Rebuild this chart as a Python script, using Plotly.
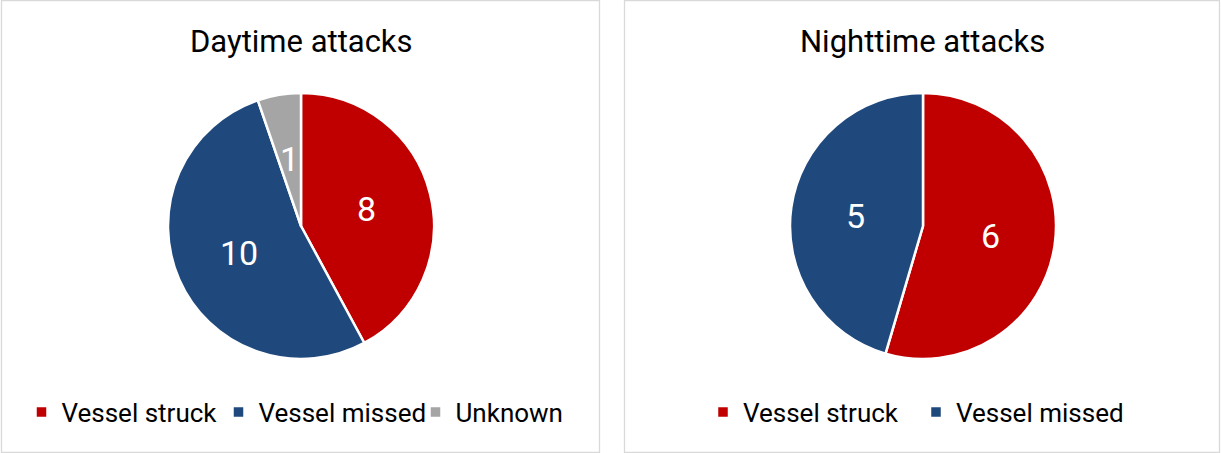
import math
import plotly.graph_objects as go

categories_day = ["Vessel struck", "Vessel missed", "Unknown"]
values_day = [8, 10, 1]
# trailing space keeps the night legend entries separate from the day ones
categories_night = ["Vessel struck ", "Vessel missed "]
values_night = [6, 5]
titles = ["Daytime attacks", "Nighttime attacks"]

colors = {"Vessel struck": "#C00000", "Vessel missed": "#1F497D", "Unknown": "#A5A5A5"}
W, H = 1221, 453
FONT = "Roboto"

pies = [
    dict(labels=categories_day, values=values_day, dom_x=[168 / W, 434 / W], dom_y=[1 - 359 / H, 1 - 93 / H], legend="legend"),
    dict(labels=categories_night, values=values_night, dom_x=[790 / W, 1056 / W], dom_y=[1 - 359 / H, 1 - 93 / H], legend="legend2"),
]

fig = go.Figure()
annotations = []
for p in pies:
    fig.add_trace(go.Pie(
        labels=p["labels"], values=p["values"], sort=False, direction="clockwise", rotation=0,
        marker=dict(colors=[colors[c.strip()] for c in p["labels"]], line=dict(color="white", width=2.5)),
        textinfo="none",
        domain=dict(x=p["dom_x"], y=p["dom_y"]),
        legend=p["legend"], hoverinfo="label+value",
    ))
    # value labels placed Excel-style at ~half radius on each slice's bisector
    cx = sum(p["dom_x"]) / 2
    cy = sum(p["dom_y"]) / 2
    rad_px = min((p["dom_x"][1] - p["dom_x"][0]) * W, (p["dom_y"][1] - p["dom_y"][0]) * H) / 2
    total = sum(p["values"])
    cum = 0
    for v in p["values"]:
        mid = (cum + v / 2) / total * 2 * math.pi
        cum += v
        r = 0.51 * rad_px
        annotations.append(dict(
            text=str(v), x=cx + r * math.sin(mid) / W, y=cy + r * math.cos(mid) / H,
            xref="paper", yref="paper", showarrow=False, xanchor="center", yanchor="middle",
            font=dict(family=FONT, size=34, color="white"),
        ))

shapes = [
    dict(type="rect", xref="paper", yref="paper", x0=1.5 / W, x1=599.5 / W, y0=0.5 / H, y1=1 - 0.5 / H,
         line=dict(color="#D9D9D9", width=1.3), fillcolor="rgba(0,0,0,0)", layer="below"),
    dict(type="rect", xref="paper", yref="paper", x0=624.5 / W, x1=1219.5 / W, y0=0.5 / H, y1=1 - 0.5 / H,
         line=dict(color="#D9D9D9", width=1.3), fillcolor="rgba(0,0,0,0)", layer="below"),
]

annotations += [
    dict(text=titles[0], x=301 / W, y=1 - 41 / H, xref="paper", yref="paper", showarrow=False,
         font=dict(family=FONT, size=31, color="black"), xanchor="center", yanchor="middle"),
    dict(text=titles[1], x=922 / W, y=1 - 41 / H, xref="paper", yref="paper", showarrow=False,
         font=dict(family=FONT, size=31, color="black"), xanchor="center", yanchor="middle"),
]

legend_common = dict(orientation="h", xanchor="center", yanchor="middle", font=dict(family=FONT, size=26, color="black"),
                     bgcolor="rgba(0,0,0,0)", itemclick=False, itemdoubleclick=False, itemwidth=30)

fig.update_layout(
    width=W, height=H, margin=dict(l=0, r=0, t=0, b=0),
    paper_bgcolor="white", plot_bgcolor="white",
    shapes=shapes, annotations=annotations,
    legend=dict(x=317 / W, y=1 - 412 / H, entrywidth=152, **legend_common),
    legend2=dict(x=916 / W, y=1 - 412 / H, entrywidth=168, **legend_common),
    showlegend=True,
)

fig.write_html("out.html", config={"displayModeBar": False},
               post_script="document.body.style.margin='0';document.body.style.padding='0';")
